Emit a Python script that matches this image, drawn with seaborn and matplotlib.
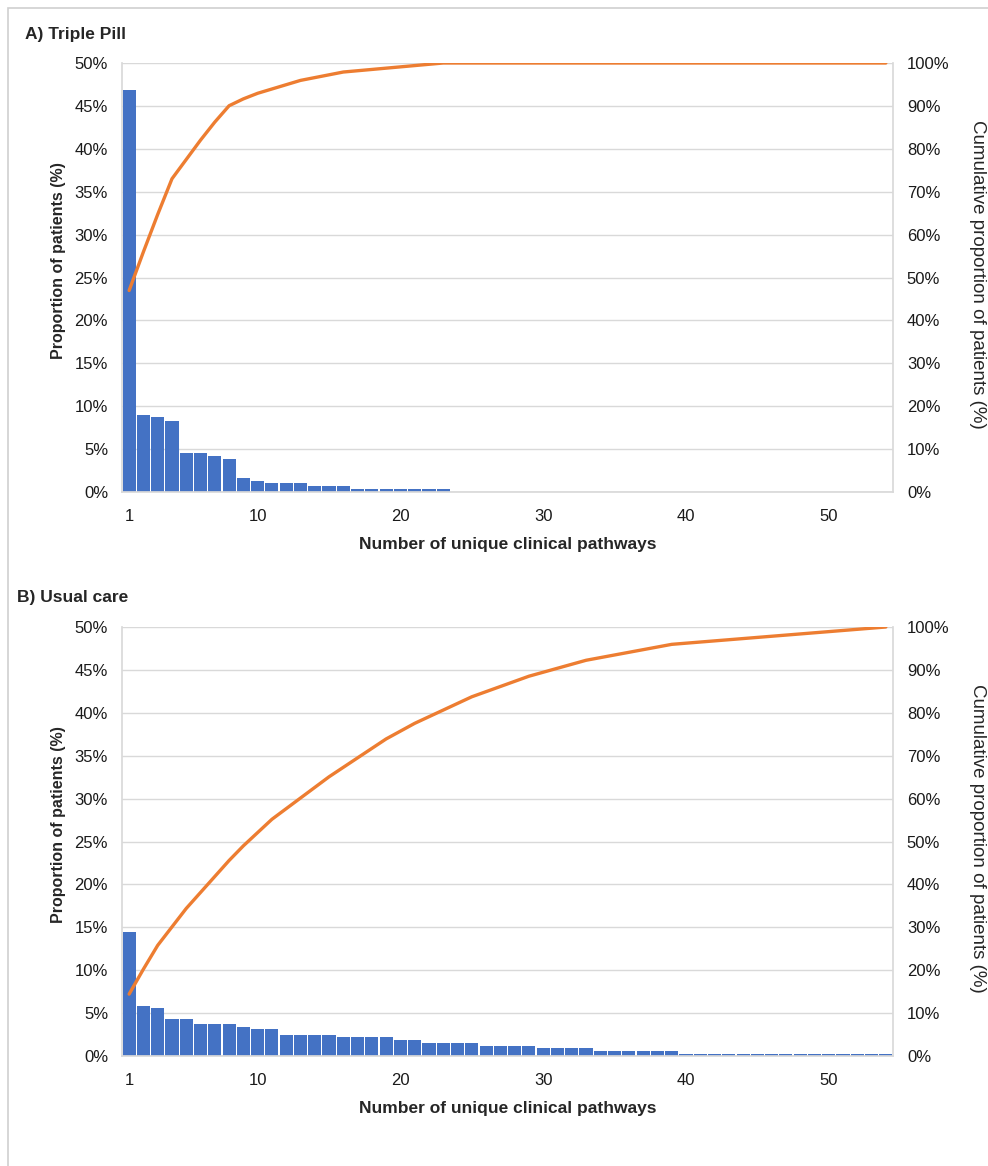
"""
plot.py
-------
Distribution of the number of unique clinical pathways per patient,
Triple Pill arm vs usual care. Bars = proportion of patients per pathway
count, line = cumulative proportion (right axis).
"""

import matplotlib
matplotlib.use("Agg")
import matplotlib.pyplot as plt
import numpy as np
import seaborn as sns
from matplotlib.patches import Rectangle

# ---- data ----
pathways = list(range(1, 55))

triple_pill_pct = ([46.9, 9.0, 8.7, 8.3, 4.5, 4.5, 4.2, 3.8, 1.6, 1.3,
                    1.0, 1.0, 1.0, 0.65, 0.65, 0.65]
                   + [0.3] * 7
                   + [0.0] * 31)

usual_care_pct = ([14.45, 5.83, 5.55, 4.31, 4.31, 3.73, 3.73, 3.73, 3.42,
                   3.1, 3.1]
                  + [2.48] * 4 + [2.21] * 4 + [1.82] * 2 + [1.55] * 4
                  + [1.2] * 4 + [0.93] * 4 + [0.62] * 6 + [0.27] * 15)

panel_titles = ["A) Triple Pill", "B) Usual care"]
x_ticks = [1, 10, 20, 30, 40, 50]
left_ticks = list(range(0, 55, 5))
right_ticks = list(range(0, 110, 10))

BAR_COLOR = "#4472C4"
LINE_COLOR = "#ED7D31"
GRID_COLOR = "#d9d9d9"

W, H = 988, 1166


def fx(px):
    return px / W


def fy(py):
    return 1 - py / H


def draw_panel(fig, top_px, title, title_x, values):
    left, right, height = 122, 893, 429
    ax = fig.add_axes([fx(left), fy(top_px + height), (right - left) / W, height / H])

    # narrow white gap between bars instead of an edge line (keeps thin bars visible)
    sns.barplot(x=pathways, y=values, native_scale=True, width=0.92,
                color=BAR_COLOR, saturation=1, linewidth=0, ax=ax)
    ax.set_xlim(0.5, 54.5)
    ax.set_ylim(0, 50)
    ax.set_xticks(x_ticks)
    ax.set_yticks(left_ticks)
    ax.set_yticklabels([f"{t}%" for t in left_ticks])
    ax.tick_params(axis="both", length=0, labelsize=12, colors="#1a1a1a")
    ax.tick_params(axis="y", pad=10)
    ax.tick_params(axis="x", pad=12)
    ax.set_axisbelow(True)
    ax.yaxis.grid(True, color=GRID_COLOR, lw=1)
    ax.xaxis.grid(False)
    for side in ["left", "bottom"]:
        ax.spines[side].set_color(GRID_COLOR)
    ax.spines["top"].set_visible(False)
    ax.spines["right"].set_visible(False)
    ax.set_xlabel("")
    ax.set_ylabel("")

    # cumulative share, on the secondary axis
    cum = np.cumsum(values)
    cum = cum / cum[-1] * 100
    ax2 = ax.twinx()
    sns.lineplot(x=pathways, y=cum, color=LINE_COLOR, lw=2.4, ax=ax2)
    ax2.set_ylim(0, 100)
    ax2.set_yticks(right_ticks)
    ax2.set_yticklabels([f"{t}%" for t in right_ticks])
    ax2.tick_params(axis="y", length=0, labelsize=12, pad=10, colors="#1a1a1a")
    ax2.grid(False)
    for side in ["left", "top", "bottom"]:
        ax2.spines[side].set_visible(False)
    ax2.spines["right"].set_color(GRID_COLOR)
    ax2.set_ylabel("")

    bottom = top_px + height
    mid = top_px + height / 2
    fig.text(fx(title_x), fy(top_px - 29), title, fontsize=12.5,
             fontweight="bold", va="center", ha="left")
    fig.text(fx(58), fy(mid - 17), "Proportion of patients (%)", rotation=90,
             fontsize=11.5, fontweight="bold", va="center", ha="center")
    fig.text(fx(977), fy(mid - 3), "Cumulative proportion of patients (%)",
             rotation=270, fontsize=13.5, va="center", ha="center")
    fig.text(fx((left + right) / 2), fy(bottom + 53),
             "Number of unique clinical pathways", fontsize=12.5,
             fontweight="bold", va="center", ha="center")


def main():
    sns.set_theme(style="white")
    plt.rcParams["font.family"] = ["Liberation Sans", "DejaVu Sans"]

    fig = plt.figure(figsize=(W / 100, H / 100), dpi=100)
    fig.add_artist(Rectangle((fx(8), -0.01), 1.0, fy(8) + 0.01,
                             transform=fig.transFigure, fill=False,
                             edgecolor="#cfcfcf", lw=1.2))

    draw_panel(fig, 63, panel_titles[0], 25, triple_pill_pct)
    draw_panel(fig, 627, panel_titles[1], 17, usual_care_pct)

    fig.savefig("out.png", dpi=100)
    plt.close(fig)


if __name__ == "__main__":
    main()
